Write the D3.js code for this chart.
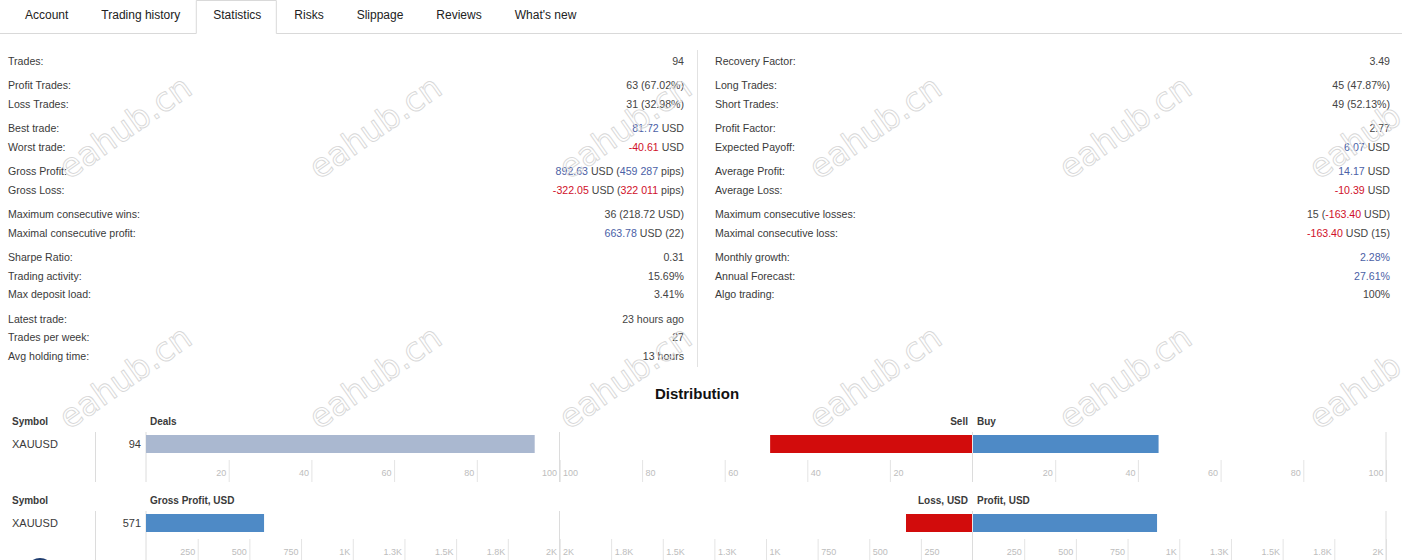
<!DOCTYPE html>
<html>
<head>
<meta charset="utf-8">
<script src="https://cdn.jsdelivr.net/npm/d3@7"></script>
<style>
  body { margin: 0; background: #fff; }
  svg { display: block; font-family: "Liberation Sans", Arial, sans-serif; }
  text { white-space: pre; }
</style>
</head>
<body>
<svg id="chart"></svg>
<script>
const tabs = ["Account", "Trading history", "Statistics", "Risks", "Slippage", "Reviews", "What's new"];
const activeTab = "Statistics";

// [label, [[text, tone]...]]  tone: b = blue, r = red, none = grey
const statsLeft = [
  [["Trades:", [["94"]]]],
  [["Profit Trades:", [["63 (67.02%)"]]],
   ["Loss Trades:", [["31 (32.98%)"]]]],
  [["Best trade:", [["81.72", "b"], [" USD"]]],
   ["Worst trade:", [["-40.61", "r"], [" USD"]]]],
  [["Gross Profit:", [["892.63", "b"], [" USD ("], ["459 287", "b"], [" pips)"]]],
   ["Gross Loss:", [["-322.05", "r"], [" USD ("], ["322 011", "r"], [" pips)"]]]],
  [["Maximum consecutive wins:", [["36 (218.72 USD)"]]],
   ["Maximal consecutive profit:", [["663.78", "b"], [" USD (22)"]]]],
  [["Sharpe Ratio:", [["0.31"]]],
   ["Trading activity:", [["15.69%"]]],
   ["Max deposit load:", [["3.41%"]]]],
  [["Latest trade:", [["23 hours ago"]]],
   ["Trades per week:", [["27"]]],
   ["Avg holding time:", [["13 hours"]]]]
];
const statsRight = [
  [["Recovery Factor:", [["3.49"]]]],
  [["Long Trades:", [["45 (47.87%)"]]],
   ["Short Trades:", [["49 (52.13%)"]]]],
  [["Profit Factor:", [["2.77"]]],
   ["Expected Payoff:", [["6.07", "b"], [" USD"]]]],
  [["Average Profit:", [["14.17", "b"], [" USD"]]],
   ["Average Loss:", [["-10.39", "r"], [" USD"]]]],
  [["Maximum consecutive losses:", [["15 ("], ["-163.40", "r"], [" USD)"]]],
   ["Maximal consecutive loss:", [["-163.40", "r"], [" USD (15)"]]]],
  [["Monthly growth:", [["2.28%", "b"]]],
   ["Annual Forecast:", [["27.61%", "b"]]],
   ["Algo trading:", [["100%"]]]]
];

// distribution
const symbols = ["XAUUSD"];
const deals = [94];
const sellDeals = [49];
const buyDeals = [45];
const netProfit = [571];
const lossUsd = [322.05];
const profitUsd = [892.63];
const dealTicks = [20, 40, 60, 80, 100];
const usdTicks = [250, 500, 750, 1000, 1250, 1500, 1750, 2000];
const usdTickLabels = ["250", "500", "750", "1K", "1.3K", "1.5K", "1.8K", "2K"];

const width = 1402, height = 560;
const tone = {b: "#4b5fa6", r: "#d0102a", g: "#444"};
const textCol = "#3a3a3a";

const svg = d3.select("#chart").attr("width", width).attr("height", height);

// watermark grid
const marks = d3.cross(d3.range(6), d3.range(2));
const wm = svg.append("g").attr("class", "wm");

// tabs
const tabG = svg.append("g").attr("font-size", 12).attr("fill", "#222");
let cx = 8, activeBox = null;
tabs.forEach(name => {
  const t = tabG.append("text").attr("x", cx + 17).attr("y", 15).attr("dy", "0.35em").text(name);
  const w = t.node().getComputedTextLength();
  if (name === activeTab) activeBox = [cx, cx + w + 32];
  cx += w + 33;
});
svg.append("path")
  .attr("d", `M0,33.5H${activeBox[0]}V0.5 M${activeBox[0]},0.5H${activeBox[1]}V33.5H${width}`)
  .attr("fill", "none").attr("stroke", "#d9d9d9");

// statistics
function drawStats(groups, xLabel, xValue) {
  let y = 61;
  const g = svg.append("g").attr("font-size", 10.6);
  groups.forEach(rows => {
    rows.forEach(([label, parts]) => {
      g.append("text").attr("x", xLabel).attr("y", y).attr("dy", "0.35em")
        .attr("fill", textCol).text(label);
      const v = g.append("text").attr("x", xValue).attr("y", y).attr("dy", "0.35em")
        .attr("text-anchor", "end");
      v.selectAll("tspan").data(parts).join("tspan")
        .attr("fill", d => tone[d[1] || "g"]).text(d => d[0]);
      y += 18.6;
    });
    y += 24.4 - 18.6;
  });
}
drawStats(statsLeft, 8, 684);
drawStats(statsRight, 715, 1390);
svg.append("line").attr("x1", 697.5).attr("x2", 697.5).attr("y1", 50).attr("y2", 367)
  .attr("stroke", "#e2e2e2");

svg.append("text").attr("x", 697).attr("y", 394).attr("dy", "0.35em")
  .attr("text-anchor", "middle").attr("font-size", 15).attr("font-weight", "bold")
  .attr("fill", "#111").text("Distribution");

// one distribution row
function drawRow(opt) {
  const hy = opt.top;
  const g = svg.append("g");
  const sL = d3.scaleLinear().domain([0, opt.max]).range([146, 559.5]);
  const sS = d3.scaleLinear().domain([0, opt.max]).range([972.5, 559.5]);
  const sB = d3.scaleLinear().domain([0, opt.max]).range([972.5, 1386]);

  const head = g.append("g").attr("font-size", 10).attr("font-weight", "bold").attr("fill", "#3a3a3a");
  head.append("text").attr("x", 12).attr("y", hy).attr("dy", "0.35em").text("Symbol");
  head.append("text").attr("x", 150).attr("y", hy).attr("dy", "0.35em").text(opt.leftTitle);
  head.append("text").attr("x", 968).attr("y", hy).attr("dy", "0.35em")
    .attr("text-anchor", "end").text(opt.sellTitle);
  head.append("text").attr("x", 977).attr("y", hy).attr("dy", "0.35em").text(opt.buyTitle);

  const fmt = v => opt.labels[opt.ticks.indexOf(v)];
  const axisY = hy + 61;
  function axis(scale, side) {
    g.append("g").attr("transform", `translate(0,${axisY})`)
      .call(d3.axisTop(scale).tickValues(opt.ticks).tickSize(22).tickFormat(fmt))
      .attr("font-family", null).attr("font-size", 9)
      .call(a => a.select(".domain").remove())
      .call(a => a.selectAll(".tick line").attr("stroke", "#e4e4e4"))
      .call(a => a.selectAll(".tick text").attr("fill", "#bdbdbd").attr("y", -9).attr("dy", "0.32em")
        .attr("x", side === "start" ? 3 : -3).attr("text-anchor", side));
  }
  axis(sL, "end");
  axis(sS, "start");
  axis(sB, "end");

  // full-height separators
  [95.5, sL(0), sL(opt.max), sS(0), sB(opt.max)].forEach(x => {
    g.append("line").attr("x1", x).attr("x2", x).attr("y1", hy + 11).attr("y2", axisY)
      .attr("stroke", "#dcdcdc");
  });

  symbols.forEach((sym, i) => {
    const by = hy + 14;
    g.append("text").attr("x", 12).attr("y", by + 9).attr("dy", "0.35em")
      .attr("font-size", 11).attr("fill", textCol).text(sym);
    g.append("text").attr("x", 141).attr("y", by + 9).attr("dy", "0.35em")
      .attr("text-anchor", "end").attr("font-size", 11).attr("fill", textCol)
      .text(d3.format("d")(opt.left[i]));
    g.append("rect").attr("x", sL(0)).attr("y", by).attr("width", sL(opt.left[i]) - sL(0)).attr("height", 18)
      .attr("fill", opt.leftColor);
    g.append("rect").attr("x", sS(opt.sell[i])).attr("y", by).attr("width", sS(0) - sS(opt.sell[i])).attr("height", 18)
      .attr("fill", "#d20c0c");
    g.append("rect").attr("x", sB(0)).attr("y", by).attr("width", sB(opt.buy[i]) - sB(0)).attr("height", 18)
      .attr("fill", "#4e8ac6");
    g.append("line").attr("x1", sS(0)).attr("x2", sS(0)).attr("y1", by).attr("y2", by + 18)
      .attr("stroke", "#e8e8e8");
  });
}

drawRow({top: 421, max: 100, ticks: dealTicks, labels: dealTicks.map(String),
  leftTitle: "Deals", sellTitle: "Sell", buyTitle: "Buy",
  left: deals, sell: sellDeals, buy: buyDeals, leftColor: "#aab8d0"});
drawRow({top: 500, max: 2000, ticks: usdTicks, labels: usdTickLabels,
  leftTitle: "Gross Profit, USD", sellTitle: "Loss, USD", buyTitle: "Profit, USD",
  left: netProfit, sell: lossUsd, buy: profitUsd, leftColor: "#4e8ac6"});

// logo peeking at the bottom
svg.append("circle").attr("cx", 40).attr("cy", 572).attr("r", 14).attr("fill", "#1e3c6e");

// watermark on top
wm.raise();
wm.selectAll("text").data(marks).join("text")
  .attr("transform", d => `translate(${125 + d[0] * 250},${127 + d[1] * 250}) rotate(-35)`)
  .attr("text-anchor", "middle").attr("dy", "0.35em")
  .attr("font-family", "DejaVu Sans").attr("font-size", 33)
  .attr("fill", "none").attr("stroke", "#d8d8d8").attr("stroke-width", 0.9)
  .text("eahub.cn");
</script>
</body>
</html>
